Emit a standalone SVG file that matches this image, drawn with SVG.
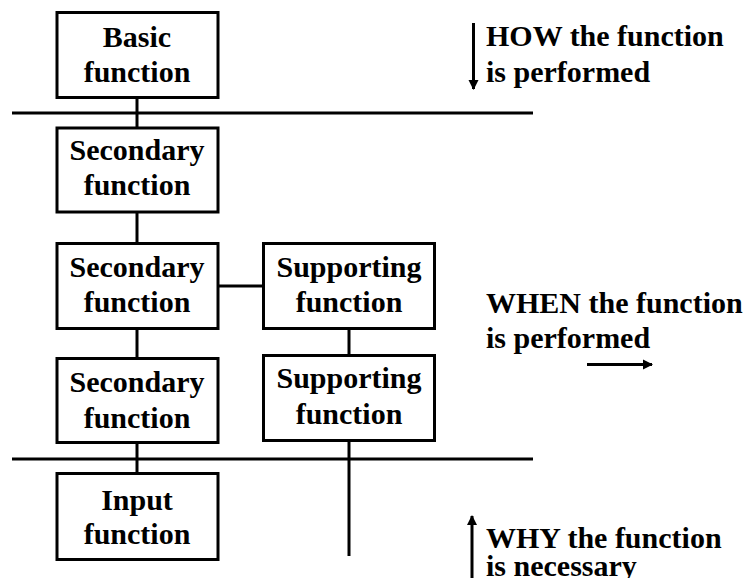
<svg xmlns="http://www.w3.org/2000/svg" width="743" height="578" viewBox="0 0 743 578">
<style>
.box{fill:#fff;stroke:#000;stroke-width:3}
.ln{stroke:#000;stroke-width:3;fill:none}
.c{text-anchor:middle}
</style>
<defs>
<marker id="ah" viewBox="0 0 10 10" refX="9" refY="5" markerWidth="3.4" markerHeight="3.4" orient="auto" markerUnits="strokeWidth">
<path d="M0,0 L10,5 L0,10 Z" fill="#000"/>
</marker>
</defs>
<g id="connectors">
<line class="ln" x1="12" y1="113" x2="533" y2="113"/>
<line class="ln" x1="12" y1="459" x2="533" y2="459"/>
<line class="ln" x1="137" y1="98" x2="137" y2="127"/>
<line class="ln" x1="137" y1="213" x2="137" y2="243"/>
<line class="ln" x1="137" y1="329" x2="137" y2="358"/>
<line class="ln" x1="137" y1="443" x2="137" y2="473"/>
<line class="ln" x1="219" y1="286" x2="263" y2="286"/>
<line class="ln" x1="349" y1="329" x2="349" y2="355"/>
<line class="ln" x1="349" y1="441" x2="349" y2="556"/>
<line class="ln" x1="473.5" y1="23" x2="473.5" y2="89" marker-end="url(#ah)"/>
<line class="ln" x1="587" y1="364.5" x2="652" y2="364.5" stroke-width="3.5" marker-end="url(#ah)"/>
<line class="ln" x1="472" y1="578" x2="472" y2="516" marker-end="url(#ah)"/>
</g>
<g font-family="Liberation Serif, Times New Roman, serif" font-weight="bold" font-size="30">
<g id="basic">
<rect class="box" x="57" y="12.5" width="161" height="85"/>
<text class="c" x="137" y="46.5">Basic</text>
<text class="c" x="137" y="81.5">function</text>
</g>
<g id="secondary1">
<rect class="box" x="57" y="128" width="161" height="84"/>
<text class="c" x="137" y="160">Secondary</text>
<text class="c" x="137" y="195">function</text>
</g>
<g id="secondary2">
<rect class="box" x="57" y="243.5" width="161" height="85"/>
<text class="c" x="137" y="276.5">Secondary</text>
<text class="c" x="137" y="312">function</text>
</g>
<g id="supporting1">
<rect class="box" x="263.5" y="243.5" width="171" height="85"/>
<text class="c" x="349" y="276.5">Supporting</text>
<text class="c" x="349" y="312">function</text>
</g>
<g id="secondary3">
<rect class="box" x="57" y="358.5" width="161" height="84"/>
<text class="c" x="137" y="392">Secondary</text>
<text class="c" x="137" y="428">function</text>
</g>
<g id="supporting2">
<rect class="box" x="263.5" y="355.5" width="171" height="85"/>
<text class="c" x="349" y="387.5">Supporting</text>
<text class="c" x="349" y="424">function</text>
</g>
<g id="input">
<rect class="box" x="57" y="473.5" width="161" height="86"/>
<text class="c" x="137" y="510">Input</text>
<text class="c" x="137" y="544">function</text>
</g>
<g id="how">
<text x="486" y="45.5">HOW the function</text>
<text x="486" y="81.5">is performed</text>
</g>
<g id="when">
<text x="486" y="312.5">WHEN the function</text>
<text x="486" y="348">is performed</text>
</g>
<g id="why">
<text x="486" y="548">WHY the function</text>
<text x="486" y="576">is necessary</text>
</g>
</g>
</svg>
